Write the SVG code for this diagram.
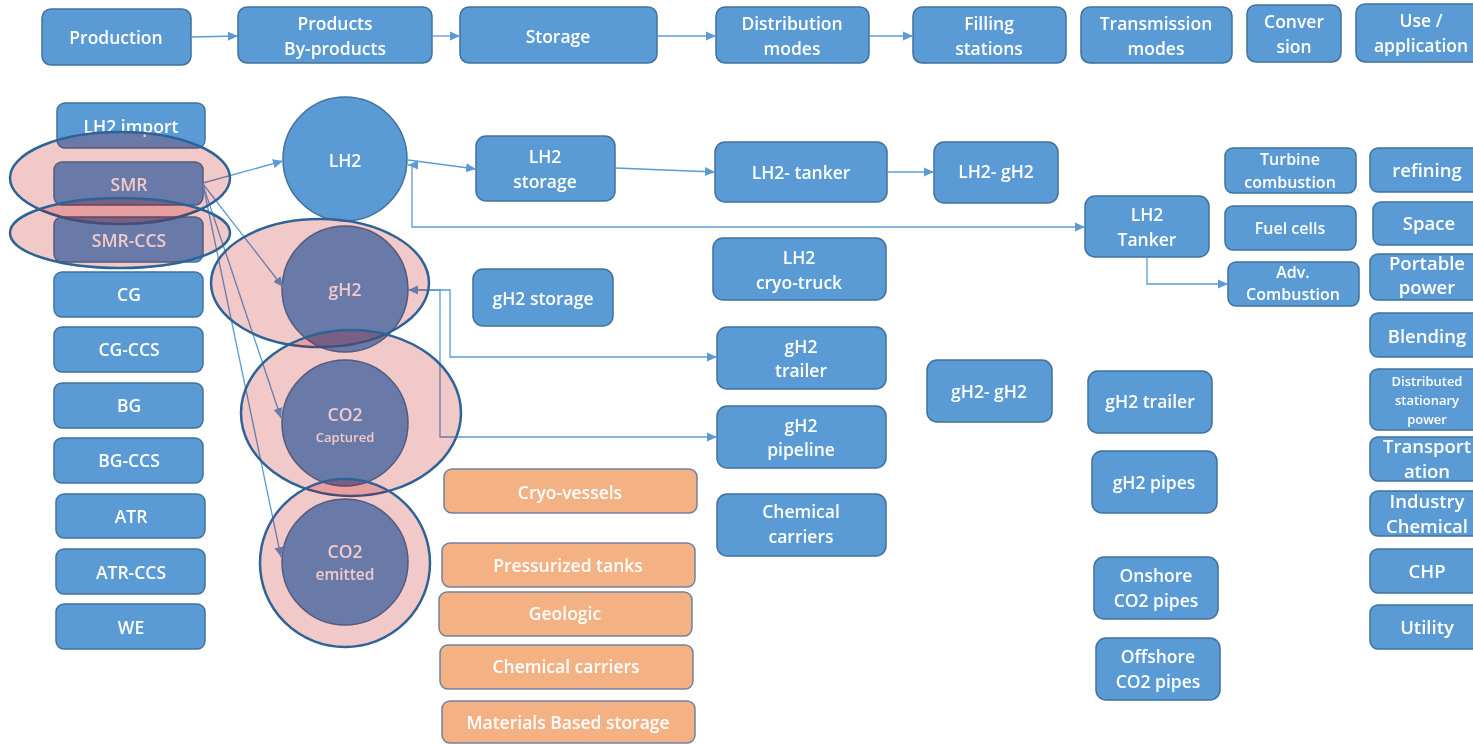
<svg xmlns="http://www.w3.org/2000/svg" width="1473" height="744" viewBox="0 0 1473 744">
<defs>
<style>
.box{fill:#5b9bd5;stroke:#41719c;stroke-width:1.5}
.obox{fill:#f4b183;stroke:#6f829f;stroke-width:1.5}
.circ{fill:#5b9bd5;stroke:#41719c;stroke-width:1.5}
text{font-family:"Open Sans","Liberation Sans",sans-serif;font-size:17.5px;font-weight:600;fill:#ffffff;text-anchor:middle}
.sm{font-size:16px}
.use{font-size:18.5px}
.tiny{font-size:13px}
.cap{font-size:13px}
.emi{font-size:15.5px}
.link{fill:none;stroke:#5b9bd5;stroke-width:1.3}
.shade{fill:#f7eded;stroke:none;mix-blend-mode:multiply}
.tint{fill:#d50000;fill-opacity:0.15;stroke:#2d6397;stroke-width:2.5}
</style>
<marker id="arrow" viewBox="0 0 10 10" refX="10" refY="5" markerWidth="10" markerHeight="10" markerUnits="userSpaceOnUse" orient="auto-start-reverse">
<path d="M0,0.5 L10,5 L0,9.5 z" fill="#5b9bd5"/>
</marker>
<ellipse id="e-smr" cx="120" cy="178" rx="110" ry="46"/>
<ellipse id="e-smr-ccs" cx="120" cy="233" rx="110" ry="35"/>
<ellipse id="e-gh2" cx="320" cy="283" rx="109" ry="64"/>
<ellipse id="e-co2c" cx="351" cy="413" rx="110" ry="83"/>
<ellipse id="e-co2e" cx="345" cy="563" rx="85" ry="84"/>
</defs>
<rect x="0" y="0" width="1473" height="744" fill="#ffffff"/>

<!-- stage headers -->
<g id="production"><rect class="box" x="42" y="9" width="149" height="56" rx="9"/><text x="116" y="44">Production</text></g>
<g id="products"><rect class="box" x="238" y="7" width="194" height="56" rx="9"/><text x="335" y="30">Products</text><text x="335" y="55">By-products</text></g>
<g id="storage"><rect class="box" x="460" y="7" width="197" height="56" rx="9"/><text x="558" y="43">Storage</text></g>
<g id="distribution"><rect class="box" x="716" y="7" width="153" height="56" rx="9"/><text x="792" y="30">Distribution</text><text x="792" y="55">modes</text></g>
<g id="filling"><rect class="box" x="913" y="7" width="153" height="56" rx="9"/><text x="989" y="30">Filling</text><text x="989" y="55">stations</text></g>
<g id="transmission"><rect class="box" x="1081" y="7" width="151" height="56" rx="9"/><text x="1156" y="30">Transmission</text><text x="1156" y="55">modes</text></g>
<g id="conversion"><rect class="box" x="1247" y="5" width="94" height="57" rx="9"/><text x="1294" y="28">Conver</text><text x="1294" y="53">sion</text></g>
<g id="use"><rect class="box" x="1356" y="4" width="130" height="58" rx="9"/><text x="1421" y="27">Use /</text><text x="1421" y="52">application</text></g>

<!-- production routes -->
<g id="lh2-import"><rect class="box" x="57" y="103" width="148" height="45" rx="8"/><text x="131" y="133">LH2 import</text></g>
<g id="smr"><rect class="box" x="54" y="162" width="149" height="43" rx="8"/><text x="129" y="191">SMR</text></g>
<g id="smr-ccs"><rect class="box" x="54" y="217" width="149" height="45" rx="8"/><text x="129" y="247">SMR-CCS</text></g>
<g id="cg"><rect class="box" x="54" y="272" width="149" height="45" rx="8"/><text x="129" y="301">CG</text></g>
<g id="cg-ccs"><rect class="box" x="54" y="327" width="149" height="45" rx="8"/><text x="129" y="356">CG-CCS</text></g>
<g id="bg"><rect class="box" x="54" y="383" width="149" height="45" rx="8"/><text x="129" y="412">BG</text></g>
<g id="bg-ccs"><rect class="box" x="54" y="438" width="149" height="45" rx="8"/><text x="129" y="467">BG-CCS</text></g>
<g id="atr"><rect class="box" x="56" y="494" width="149" height="44" rx="8"/><text x="131" y="523">ATR</text></g>
<g id="atr-ccs"><rect class="box" x="56" y="549" width="149" height="45" rx="8"/><text x="131" y="579">ATR-CCS</text></g>
<g id="we"><rect class="box" x="56" y="604" width="149" height="45" rx="8"/><text x="131" y="634">WE</text></g>

<!-- products -->
<g id="lh2"><circle class="circ" cx="345" cy="159" r="62"/><text x="345" y="167">LH2</text></g>
<g id="gh2"><circle class="circ" cx="345" cy="289" r="63"/><text x="345" y="296">gH2</text></g>
<g id="co2-captured"><circle class="circ" cx="345" cy="423" r="63"/><text x="345" y="421">CO2</text><text class="cap" x="345" y="442">Captured</text></g>
<g id="co2-emitted"><circle class="circ" cx="345" cy="562" r="63"/><text x="345" y="558">CO2</text><text class="emi" x="345" y="580">emitted</text></g>

<!-- storage -->
<g id="lh2-storage"><rect class="box" x="476" y="136" width="139" height="65" rx="10"/><text x="545" y="163">LH2</text><text x="545" y="188">storage</text></g>
<g id="gh2-storage"><rect class="box" x="473" y="269" width="140" height="57" rx="10"/><text x="543" y="305">gH2 storage</text></g>
<g id="cryo-vessels"><rect class="obox" x="444" y="469" width="253" height="44" rx="8"/><text x="570" y="499">Cryo-vessels</text></g>
<g id="pressurized-tanks"><rect class="obox" x="442" y="543" width="253" height="44" rx="8"/><text x="568" y="572">Pressurized tanks</text></g>
<g id="geologic"><rect class="obox" x="439" y="592" width="253" height="44" rx="8"/><text x="565" y="620">Geologic</text></g>
<g id="chemical-carriers-storage"><rect class="obox" x="440" y="645" width="253" height="44" rx="8"/><text x="566" y="673">Chemical carriers</text></g>
<g id="materials-storage"><rect class="obox" x="442" y="701" width="253" height="42" rx="8"/><text x="568" y="729">Materials Based storage</text></g>

<!-- distribution -->
<g id="lh2-tanker"><rect class="box" x="715" y="142" width="172" height="60" rx="10"/><text x="801" y="179">LH2- tanker</text></g>
<g id="lh2-cryo-truck"><rect class="box" x="713" y="238" width="173" height="62" rx="10"/><text x="799" y="264">LH2</text><text x="799" y="289">cryo-truck</text></g>
<g id="gh2-trailer"><rect class="box" x="717" y="327" width="169" height="62" rx="10"/><text x="801" y="353">gH2</text><text x="801" y="377">trailer</text></g>
<g id="gh2-pipeline"><rect class="box" x="717" y="406" width="169" height="62" rx="10"/><text x="801" y="432">gH2</text><text x="801" y="456">pipeline</text></g>
<g id="chemical-carriers"><rect class="box" x="717" y="494" width="169" height="62" rx="10"/><text x="801" y="518">Chemical</text><text x="801" y="543">carriers</text></g>

<!-- filling stations -->
<g id="lh2-gh2"><rect class="box" x="934" y="142" width="124" height="61" rx="10"/><text x="996" y="178">LH2- gH2</text></g>
<g id="gh2-gh2"><rect class="box" x="927" y="360" width="125" height="62" rx="10"/><text x="989" y="398">gH2- gH2</text></g>

<!-- transmission -->
<g id="lh2-tanker-trans"><rect class="box" x="1085" y="196" width="124" height="61" rx="10"/><text x="1147" y="221">LH2</text><text x="1147" y="246">Tanker</text></g>
<g id="gh2-trailer-trans"><rect class="box" x="1088" y="371" width="124" height="62" rx="10"/><text x="1150" y="408">gH2 trailer</text></g>
<g id="gh2-pipes"><rect class="box" x="1092" y="451" width="125" height="62" rx="10"/><text x="1154" y="489">gH2 pipes</text></g>
<g id="onshore-co2"><rect class="box" x="1094" y="557" width="124" height="62" rx="10"/><text x="1156" y="582">Onshore</text><text x="1156" y="607">CO2 pipes</text></g>
<g id="offshore-co2"><rect class="box" x="1096" y="638" width="124" height="62" rx="10"/><text x="1158" y="663">Offshore</text><text x="1158" y="688">CO2 pipes</text></g>

<!-- conversion -->
<g id="turbine"><rect class="box" x="1225" y="148" width="131" height="45" rx="8"/><text class="sm" x="1290" y="165">Turbine</text><text class="sm" x="1290" y="188">combustion</text></g>
<g id="fuel-cells"><rect class="box" x="1225" y="206" width="131" height="44" rx="8"/><text class="sm" x="1290" y="234">Fuel cells</text></g>
<g id="adv-combustion"><rect class="box" x="1228" y="262" width="131" height="44" rx="8"/><text class="sm" x="1293" y="278">Adv.</text><text class="sm" x="1293" y="300">Combustion</text></g>

<!-- use / application -->
<g id="refining"><rect class="box" x="1370" y="148" width="114" height="44" rx="8"/><text class="use" x="1427" y="177">refining</text></g>
<g id="space"><rect class="box" x="1373" y="202" width="112" height="43" rx="8"/><text class="use" x="1429" y="230">Space</text></g>
<g id="portable-power"><rect class="box" x="1370" y="254" width="114" height="46" rx="8"/><text class="use" x="1427" y="270">Portable</text><text class="use" x="1427" y="294">power</text></g>
<g id="blending"><rect class="box" x="1370" y="313" width="114" height="44" rx="8"/><text class="use" x="1427" y="343">Blending</text></g>
<g id="distributed-power"><rect class="box" x="1370" y="369" width="114" height="61" rx="8"/><text class="tiny" x="1427" y="386">Distributed</text><text class="tiny" x="1427" y="405">stationary</text><text class="tiny" x="1427" y="424">power</text></g>
<g id="transportation"><rect class="box" x="1370" y="437" width="114" height="44" rx="8"/><text class="use" x="1427" y="453">Transport</text><text class="use" x="1427" y="478">ation</text></g>
<g id="industry-chemical"><rect class="box" x="1370" y="491" width="114" height="45" rx="8"/><text class="use" x="1427" y="508">Industry</text><text class="use" x="1427" y="533">Chemical</text></g>
<g id="chp"><rect class="box" x="1370" y="549" width="114" height="44" rx="8"/><text class="use" x="1427" y="578">CHP</text></g>
<g id="utility"><rect class="box" x="1370" y="605" width="114" height="44" rx="8"/><text class="use" x="1427" y="634">Utility</text></g>

<!-- connectors -->
<g id="connectors" class="link">
<path class="link" d="M191,37 L238,36" marker-end="url(#arrow)"/>
<path class="link" d="M432,36 L460,36" marker-end="url(#arrow)"/>
<path class="link" d="M657,36 L716,36" marker-end="url(#arrow)"/>
<path class="link" d="M869,36 L913,36" marker-end="url(#arrow)"/>
<path class="link" d="M203,183 L283,161" marker-end="url(#arrow)"/>
<path class="link" d="M203,184 L283,287" marker-end="url(#arrow)"/>
<path class="link" d="M203,185 L281,418" marker-end="url(#arrow)"/>
<path class="link" d="M203,185 L281,557" marker-end="url(#arrow)"/>
<path class="link" d="M408,160 L476,169" marker-end="url(#arrow)"/>
<path class="link" d="M615,168 L715,172" marker-end="url(#arrow)"/>
<path class="link" d="M887,172 L934,172" marker-end="url(#arrow)"/>
<path class="link" d="M408,165 H412 V227 H1085" marker-start="url(#arrow)" marker-end="url(#arrow)"/>
<path class="link" d="M1147,257 V284 H1228" marker-end="url(#arrow)"/>
<path class="link" d="M717,357 H450 V290 H408" marker-start="url(#arrow)" marker-end="url(#arrow)"/>
<path class="link" d="M408,290 H440 V437 H717" marker-end="url(#arrow)"/>
</g>

<!-- highlight rings: a multiply layer darkens, a red tint layer warms, then the outline -->
<g id="highlights">
<g id="hl-smr"><use href="#e-smr" class="shade"/><use href="#e-smr" class="tint"/></g>
<g id="hl-smr-ccs"><use href="#e-smr-ccs" class="shade"/><use href="#e-smr-ccs" class="tint"/></g>
<g id="hl-gh2"><use href="#e-gh2" class="shade"/><use href="#e-gh2" class="tint"/></g>
<g id="hl-co2-captured"><use href="#e-co2c" class="shade"/><use href="#e-co2c" class="tint"/></g>
<g id="hl-co2-emitted"><use href="#e-co2e" class="shade"/><use href="#e-co2e" class="tint"/></g>
</g>
</svg>
